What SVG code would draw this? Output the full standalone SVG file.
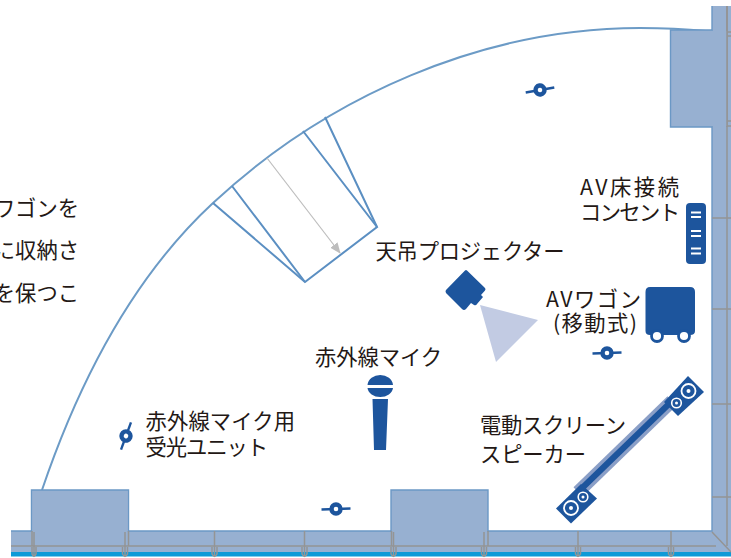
<svg xmlns="http://www.w3.org/2000/svg" width="731" height="558" viewBox="0 0 731 558">
<style>
.wall{fill:#97b0d1}
.edge{fill:#97b0d1;stroke:#6b98c5;stroke-width:1.4}
.grid{fill:none;stroke:#949494;stroke-width:1.5}
.room{fill:none;stroke:#6c9bc6;stroke-width:2}
.screen{fill:none;stroke:#5b8fc2;stroke-width:2}
.ink{fill:#1d559d}
.lbl{font-family:"Noto Sans CJK JP","Noto Sans",sans-serif;font-size:21.3px;fill:#231815}
.mic{fill:none;stroke:#1d559d;stroke-width:2.4}
</style>
<defs>
<marker id="arr" markerWidth="12" markerHeight="10" refX="10" refY="4.500" orient="auto" markerUnits="userSpaceOnUse"><path d="M0 0L11 4.500L0 9Z" fill="#bdbdbd"/></marker>
<g id="sensor">
<path d="M-14.500 0.500L14.500 -0.500" class="mic"/>
<circle r="4.500" fill="#fff" stroke="#1d559d" stroke-width="4.400"/>
</g>
</defs>

<g id="building">
<rect class="wall" x="11" y="531" width="720" height="21"/>
<rect x="11" y="552" width="720" height="4.500" fill="#0e9ad7"/>
<rect class="wall" x="712" y="6" width="19" height="546"/>
<path d="M11 531H712V6" fill="none" stroke="#6b98c5" stroke-width="1.400"/>
<path class="grid" d="M11 546H716M727 6V546M712 218H731M712 309H731M712 404H731M712 497H731M712 532L731 552"/>
<path class="grid" d="M34 531V556M32 547V554Q34 559 36 554V547M125 531V556M122.500 547V554Q125 559 127.500 554V547M214.500 531V556M212 547V554Q214.500 559 217 554V547M304.500 531V556M302 547V554Q304.500 559 307 554V547M393.500 531V556M391 547V554Q393.500 559 396 554V547M484 531V556M481.500 547V554Q484 559 486.500 554V547M578 531V556M575.500 547V554Q578 559 580.500 554V547M671 531V556M668.500 547V554Q671 559 673.500 554V547"/>
</g>

<g id="room-arc">
<path class="room" d="M42 490C78 384 131 279 213 203C328 96 483 28 640 28Q675 28 706 31"/>
</g>

<g id="pillar-top-right">
<path class="edge" d="M712 30H670.500V127H712"/>
<rect class="wall" x="672" y="31" width="55" height="95"/>
<path class="grid" d="M727 6V127M727 32H731M727 36H731M727 121H731M727 126H731"/>
</g>
<g id="pillar-left">
<path class="edge" d="M31.500 532V490H128.500V532"/>
<rect class="wall" x="32.500" y="491" width="95" height="40"/>
<path class="grid" d="M32 531V546M128.500 531V546"/>
</g>
<g id="pillar-mid">
<path class="edge" d="M391 532V490H488V532"/>
<rect class="wall" x="392" y="491" width="95" height="40"/>
<path class="grid" d="M391.500 531V546M488 531V546"/>
</g>

<g id="screen-area">
<path class="screen" d="M213 203L305 282L377 227L303 131"/>
<path class="screen" d="M232 186L305 282M325 117L377 227"/>
</g>

<g id="connectors">
<path d="M267 158L340 253" fill="none" stroke="#bdbdbd" stroke-width="1.200" marker-end="url(#arr)"/>
</g>

<g id="sensor-top"><use href="#sensor" transform="translate(540 90) rotate(-8)"/></g>
<g id="sensor-right"><use href="#sensor" x="607" y="353"/></g>
<g id="sensor-bottom"><use href="#sensor" x="336" y="509"/></g>
<g id="sensor-left"><use href="#sensor" transform="translate(126 436) rotate(-68)"/></g>

<g id="projector">
<path d="M480 305L496 362L538 320Z" fill="#c2cbe3"/>
<path class="ink" d="M467 270.500L485 288Q486 289 485 290.500L481 295L483 297L477 304Q476 306 474 305L471 303L466 309Q464 311 462 309L446 293Q445 291 446 290L465 270.500Q466 269.500 467 270.500Z"/>
<text class="lbl" x="375.500" y="259" textLength="189" lengthAdjust="spacing">天吊プロジェクター</text>
</g>

<g id="floor-outlet">
<text class="lbl" x="580" y="195" textLength="99" lengthAdjust="spacing">AV床接続</text>
<text class="lbl" x="580" y="220" textLength="100" lengthAdjust="spacing">コンセント</text>
<rect class="ink" x="686" y="203" width="20" height="61" rx="4"/>
<path d="M691 212.500H701M691 217H701M691 231H701M691 236H701M691 248.500H701M691 253.500H701" stroke="#fff" stroke-width="1.800" fill="none"/>
</g>

<g id="av-wagon">
<text class="lbl" x="546" y="307" textLength="95" lengthAdjust="spacing">AVワゴン</text>
<text class="lbl" x="553" y="331" textLength="84" lengthAdjust="spacing">(移動式)</text>
<path class="ink" d="M650 287H690Q695 287 695 292V331Q695 335 690 335H650Q645.500 335 645.500 331V292Q645.500 287 650 287Z"/>
<circle cx="657" cy="336" r="5.500" fill="#fff" stroke="#1d559d" stroke-width="2.800"/>
<circle cx="684" cy="336" r="5.500" fill="#fff" stroke="#1d559d" stroke-width="2.800"/>
</g>

<g id="ir-mic">
<text class="lbl" x="315" y="365" textLength="127" lengthAdjust="spacing">赤外線マイク</text>
<path class="ink" d="M367.500 385A12.800 11 0 0 1 393 385ZM367.500 388H393A12.800 10 0 0 1 367.500 388ZM372.500 399H388L386 450H374Z"/>
</g>

<g id="ir-receiver-label">
<text class="lbl" x="145.500" y="429" textLength="149.500" lengthAdjust="spacing">赤外線マイク用</text>
<text class="lbl" x="145.500" y="455" textLength="122.500" lengthAdjust="spacing">受光ユニット</text>
</g>

<g id="speaker-screen">
<path d="M578 492L672 401" stroke="#8b9fc7" stroke-width="13" fill="none"/>
<path d="M578 492L672 401" stroke="#1d559d" stroke-width="6" fill="none"/>
<path class="ink" d="M556 508.500L581 484L597 498.500L571 523.500Z"/>
<path class="ink" d="M664 402L688 376L704 392L678 416Z"/>
<circle cx="571" cy="508" r="7" fill="none" stroke="#fff" stroke-width="1.800"/><circle cx="571" cy="508" r="2" fill="#fff"/>
<circle cx="583" cy="497" r="4.800" fill="none" stroke="#fff" stroke-width="1.600"/><circle cx="583" cy="497" r="1.500" fill="#fff"/>
<circle cx="688.500" cy="391" r="7" fill="none" stroke="#fff" stroke-width="1.800"/><circle cx="688.500" cy="391" r="2" fill="#fff"/>
<circle cx="676.500" cy="403" r="4.800" fill="none" stroke="#fff" stroke-width="1.600"/><circle cx="676.500" cy="403" r="1.500" fill="#fff"/>
<text class="lbl" x="480" y="433" textLength="146" lengthAdjust="spacing">電動スクリーン</text>
<text class="lbl" x="480" y="462" textLength="106" lengthAdjust="spacing">スピーカー</text>
</g>

<g id="clipped-caption">
<text class="lbl" x="79" y="216" text-anchor="end">ワゴンを</text>
<text class="lbl" x="79" y="258" text-anchor="end">に収納さ</text>
<text class="lbl" x="79" y="301" text-anchor="end">を保つこ</text>
</g>
</svg>
